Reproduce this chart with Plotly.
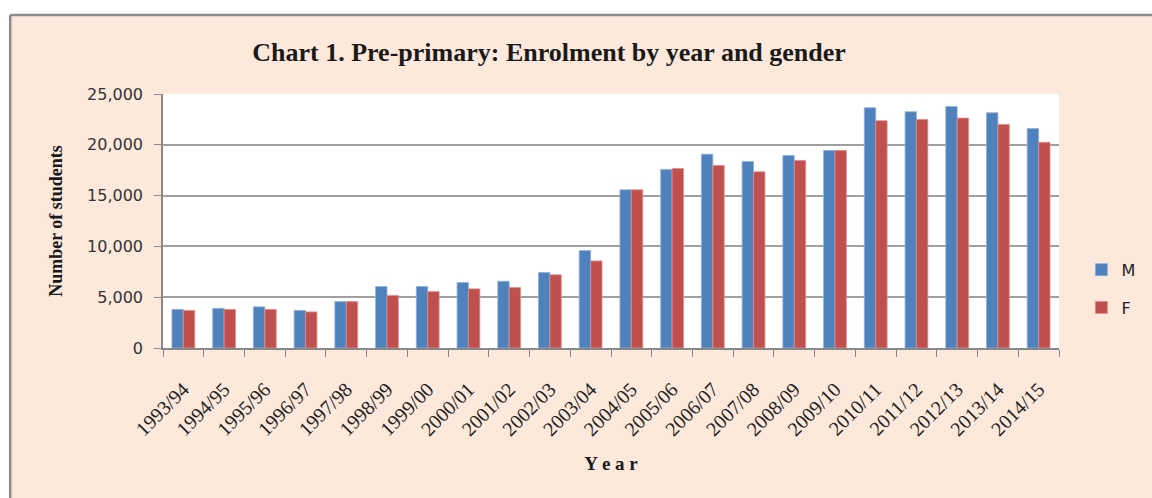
import plotly.graph_objects as go

years = ["1993/94", "1994/95", "1995/96", "1996/97", "1997/98", "1998/99", "1999/00",
         "2000/01", "2001/02", "2002/03", "2003/04", "2004/05", "2005/06", "2006/07",
         "2007/08", "2008/09", "2009/10", "2010/11", "2011/12", "2012/13", "2013/14", "2014/15"]
male = [3800, 3900, 4050, 3700, 4570, 6050, 6050, 6440, 6570, 7430, 9590, 15570, 17580, 19080,
        18360, 18950, 19450, 23650, 23250, 23780, 23150, 21610]
female = [3700, 3800, 3800, 3550, 4570, 5160, 5550, 5820, 5950, 7200, 8570, 15570, 17670, 17970,
          17340, 18460, 19450, 22370, 22500, 22630, 22010, 20240]

PEACH = "#FDE9DB"
GRID = "#A0A0A0"

fig = go.Figure()
fig.add_trace(go.Bar(name="M", x=years, y=male, marker_color="#4F81BD",
                     marker_line=dict(color="#8FB0DA", width=0.8), legendgroup="M"))
fig.add_trace(go.Bar(name="F", x=years, y=female, marker_color="#C0504D",
                     marker_line=dict(color="#DE8F8D", width=0.8), legendgroup="F"))

fig.update_layout(
    width=1152, height=498, autosize=False,
    margin=dict(l=163, r=80, t=94, b=150),
    paper_bgcolor=PEACH,
    plot_bgcolor="white",
    barmode="group", bargap=0.44, bargroupgap=0,
    title=dict(text="<b>Chart 1. Pre-primary: Enrolment by year and gender</b>",
               x=0.4766, xanchor="center", xref="container",
               y=1 - 52 / 498, yanchor="middle", yref="container",
               font=dict(family="Liberation Serif", size=26, color="#1a1a1a")),
    legend=dict(x=1.025, xanchor="left", y=0.375, yanchor="top",
                font=dict(family="DejaVu Sans", size=16, color="#222"),
                bgcolor="rgba(0,0,0,0)", tracegroupgap=14, itemwidth=30),
    showlegend=True,
)

fig.update_xaxes(
    type="category",
    tickangle=-45,
    tickfont=dict(family="Liberation Serif", size=20, color="#222"),
    showline=True, linecolor="#888", linewidth=1.5, mirror=False,
    ticks="outside", tickson="boundaries", ticklen=7, tickcolor="#888",
    ticklabelstandoff=20,
    showgrid=False,
    title=dict(text="<b>Y e a r</b>", standoff=18,
               font=dict(family="Liberation Serif", size=19, color="#1a1a1a")),
)
fig.update_yaxes(
    range=[0, 25000], dtick=5000, tickformat=",d",
    tickfont=dict(family="DejaVu Sans", size=16, color="#333"),
    showline=True, linecolor="#888", linewidth=1.5,
    ticks="outside", ticklen=7, tickcolor="#888",
    ticklabelstandoff=8,
    showgrid=True, gridcolor=GRID, gridwidth=1.5,
    zeroline=False,
    title=dict(text="<b>Number of students</b>", standoff=20,
               font=dict(family="Liberation Serif", size=18, color="#1a1a1a")),
)

# outer chart-area frame (white outside, grey border on top and left)
def px_x(p):
    return (p - 163) / 909

def px_y(p):
    return (348 - p) / 254

shapes = [
    dict(type="rect", xref="paper", yref="paper", x0=px_x(-20), x1=px_x(1180), y0=px_y(15), y1=px_y(-20),
         fillcolor="white", line=dict(width=0), layer="above"),
    dict(type="rect", xref="paper", yref="paper", x0=px_x(-20), x1=px_x(8), y0=px_y(520), y1=px_y(-20),
         fillcolor="white", line=dict(width=0), layer="above"),
    dict(type="line", xref="paper", yref="paper", x0=px_x(8), x1=px_x(1180), y0=px_y(15), y1=px_y(15),
         line=dict(color="#8C8C8C", width=2.5), layer="above"),
    dict(type="line", xref="paper", yref="paper", x0=px_x(8), x1=px_x(8), y0=px_y(520), y1=px_y(15),
         line=dict(color="#8C8C8C", width=2.5), layer="above"),
]
fig.update_layout(shapes=shapes)

fig.write_html(
    "out.html",
    config={"responsive": False, "displayModeBar": False},
    default_width="1152px", default_height="498px",
    post_script="document.body.style.margin='0';document.body.style.overflow='hidden';",
)
